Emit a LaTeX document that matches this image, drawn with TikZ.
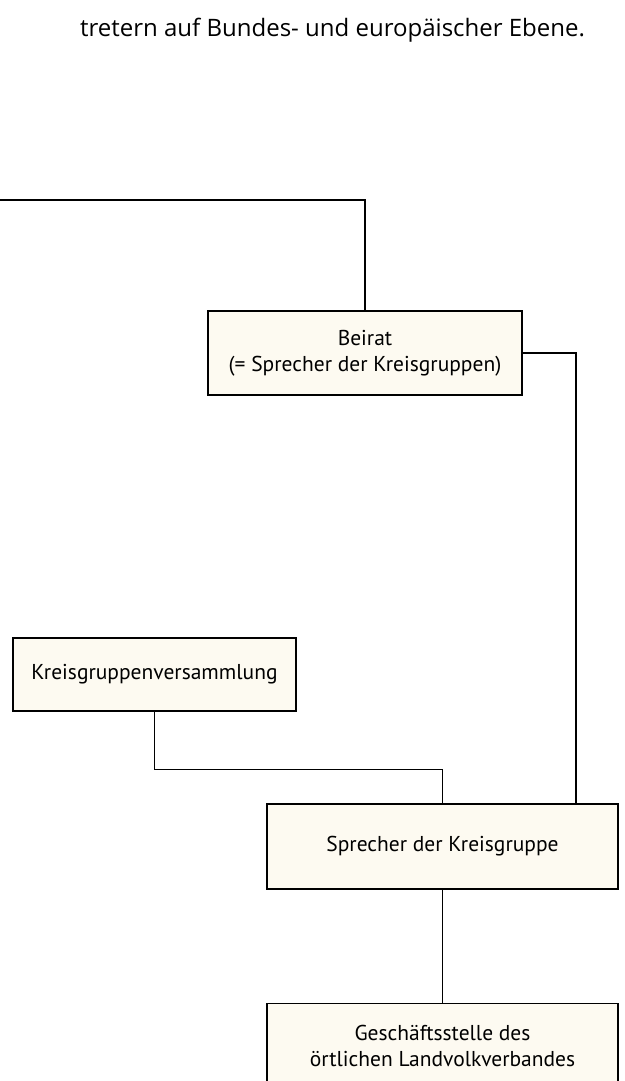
\documentclass[tikz,border=0pt]{standalone}
\usepackage{fontspec}
\setmainfont{PT Sans}
\newfontfamily\headfont{Open Sans}
\usetikzlibrary{positioning}
\definecolor{boxcream}{HTML}{FDFAF1}

\begin{document}
\begin{tikzpicture}[x=1pt,y=1pt]
	\tikzstyle{every node}+=[inner sep=0pt]
	\tikzstyle{orgbox}=[draw=black, fill=boxcream, line width=1.3pt, align=center, font=\fontsize{21.5}{26}\selectfont]
	\tikzstyle{link}=[black, line width=1.3pt]
	\useasboundingbox (0,0) rectangle (624,-1081);
	\clip (0,0) rectangle (624,-1081);
	\draw (80,-37) node [anchor=base west, font=\headfont\fontsize{24}{28}\selectfont] (head) {tretern auf Bundes- und europäischer Ebene.};
	\node [orgbox, minimum width=314pt, minimum height=84pt] (beirat) at (365,-353) {Beirat\\(= Sprecher der Kreisgruppen)};
	\node [orgbox, minimum width=283pt, minimum height=73pt] (kreis) at (154.5,-674.5) {Kreisgruppenversammlung};
	\node [orgbox, minimum width=351pt, minimum height=85pt] (sprecher) at (442.5,-846.5) {Sprecher der Kreisgruppe};
	\node [orgbox, minimum width=351pt, minimum height=85pt, below=113pt of sprecher] (gst) {Geschäftsstelle des\\örtlichen Landvolkverbandes};
	\coordinate (oben) at (0,-200);
	\draw [link] (oben) -| (beirat.north);
	\draw [link] (beirat.east) -| ([xshift=133.5pt]sprecher.north);
	\draw [link] (kreis.south) -- ++(0,-58) -| (sprecher.north);
	\draw [link] (sprecher.south) -- (gst.north);
\end{tikzpicture}
\end{document}
